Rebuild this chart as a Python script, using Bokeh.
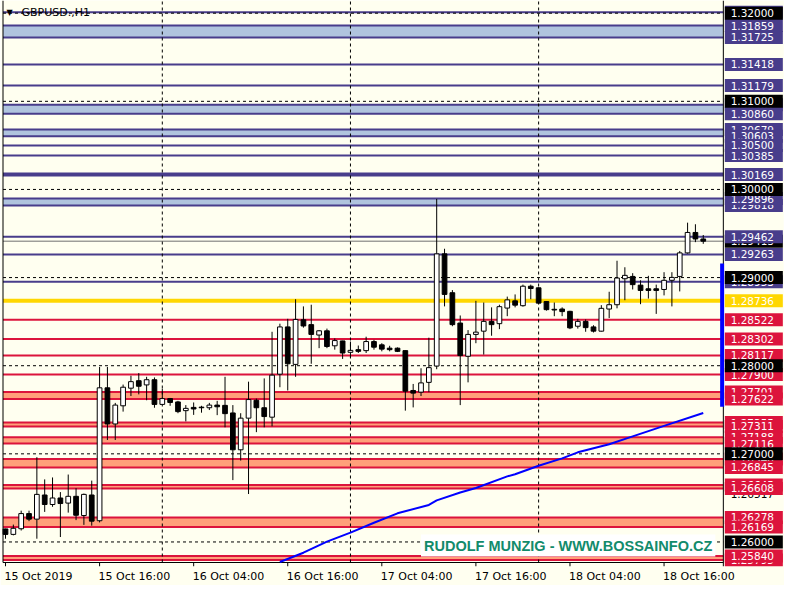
from bokeh.plotting import figure
from bokeh.models import Range1d, FixedTicker, Label
from bokeh.embed import file_html
from bokeh.resources import INLINE
from bokeh.core.properties import value

# ---------------- data (GBPUSD., H1) ----------------
opens = [1.26148, 1.26086, 1.26150, 1.26322, 1.26259, 1.26533, 1.26425, 1.26499, 1.26441, 1.26518,
         1.26300, 1.26533, 1.26241, 1.27749, 1.27339, 1.27545, 1.27745, 1.27830, 1.27782, 1.27841,
         1.27561, 1.27627, 1.27589, 1.27490, 1.27527, 1.27530, 1.27523, 1.27553, 1.27550, 1.27464,
         1.27046, 1.27405, 1.27608, 1.27523, 1.27416, 1.27904, 1.28440, 1.28015, 1.28521, 1.28466,
         1.28348, 1.28396, 1.28226, 1.28281, 1.28152, 1.28182, 1.28171, 1.28274, 1.28237, 1.28199,
         1.28199, 1.28171, 1.27719, 1.27700, 1.27811, 1.27996, 1.29269, 1.28828, 1.28484, 1.28107,
         1.28355, 1.28392, 1.28503, 1.28477, 1.28654, 1.28736, 1.28681, 1.28902, 1.28884, 1.28728,
         1.28640, 1.28643, 1.28617, 1.28448, 1.28503, 1.28440, 1.28392, 1.28643, 1.28692, 1.28987,
         1.29013, 1.28914, 1.28873, 1.28873, 1.28865, 1.28969, 1.29013, 1.29280, 1.29512, 1.29438]
highs = [1.26150, 1.26197, 1.26355, 1.26355, 1.26962, 1.26710, 1.26732, 1.26566, 1.26765, 1.26610,
         1.26549, 1.26696, 1.27985, 1.27985, 1.27578, 1.27786, 1.27886, 1.27916, 1.27874, 1.27867,
         1.27738, 1.27634, 1.27601, 1.27553, 1.27583, 1.27545, 1.27578, 1.27601, 1.27874, 1.27553,
         1.27461, 1.27819, 1.27627, 1.27856, 1.28385, 1.28477, 1.28532, 1.28754, 1.28673, 1.28692,
         1.28404, 1.28421, 1.28310, 1.28283, 1.28274, 1.28229, 1.28329, 1.28293, 1.28255, 1.28226,
         1.28207, 1.28173, 1.27793, 1.27971, 1.28318, 1.29893, 1.29327, 1.28858, 1.28570, 1.28404,
         1.28736, 1.28717, 1.28662, 1.28692, 1.28784, 1.28809, 1.28920, 1.28920, 1.28889, 1.28732,
         1.28717, 1.28662, 1.28623, 1.28532, 1.28525, 1.28459, 1.28687, 1.28839, 1.29191, 1.29117,
         1.29050, 1.28969, 1.29020, 1.28920, 1.29061, 1.29061, 1.29302, 1.29623, 1.29605, 1.29483]
lows = [1.26037, 1.26075, 1.26130, 1.26236, 1.26037, 1.26341, 1.26399, 1.26056, 1.26333, 1.26248,
        1.26194, 1.26185, 1.26222, 1.27157, 1.27157, 1.27479, 1.27656, 1.27675, 1.27608, 1.27523,
        1.27555, 1.27545, 1.27461, 1.27368, 1.27442, 1.27467, 1.27497, 1.27439, 1.27301, 1.26702,
        1.26924, 1.26544, 1.27246, 1.27301, 1.27312, 1.27756, 1.27719, 1.27874, 1.28432, 1.28022,
        1.28199, 1.28199, 1.28182, 1.28077, 1.28089, 1.28144, 1.28144, 1.28182, 1.28163, 1.28163,
        1.28155, 1.27490, 1.27527, 1.27656, 1.27700, 1.27960, 1.28673, 1.28448, 1.27553, 1.27811,
        1.28255, 1.28126, 1.28340, 1.28415, 1.28562, 1.28662, 1.28670, 1.28754, 1.28698, 1.28625,
        1.28562, 1.28562, 1.28415, 1.28421, 1.28385, 1.28377, 1.28388, 1.28540, 1.28651, 1.28743,
        1.28865, 1.28698, 1.28762, 1.28588, 1.28798, 1.28673, 1.28843, 1.29272, 1.29402, 1.29383]
closes = [1.26086, 1.26155, 1.26322, 1.26259, 1.26540, 1.26425, 1.26499, 1.26436, 1.26518, 1.26303,
          1.26540, 1.26236, 1.27749, 1.27339, 1.27553, 1.27756, 1.27819, 1.27767, 1.27841, 1.27561,
          1.27627, 1.27583, 1.27479, 1.27516, 1.27509, 1.27523, 1.27553, 1.27534, 1.27456, 1.27046,
          1.27405, 1.27616, 1.27523, 1.27423, 1.27893, 1.28440, 1.28022, 1.28525, 1.28451, 1.28355,
          1.28396, 1.28218, 1.28285, 1.28144, 1.28174, 1.28163, 1.28274, 1.28210, 1.28188, 1.28182,
          1.28163, 1.27711, 1.27689, 1.27805, 1.27978, 1.29269, 1.28809, 1.28466, 1.28115, 1.28355,
          1.28381, 1.28503, 1.28466, 1.28670, 1.28747, 1.28687, 1.28902, 1.28876, 1.28710, 1.28636,
          1.28632, 1.28614, 1.28429, 1.28503, 1.28432, 1.28392, 1.28651, 1.28692, 1.28995, 1.29025,
          1.28920, 1.28854, 1.28854, 1.28854, 1.28969, 1.29002, 1.29280, 1.29512, 1.29438, 1.29413]
bars = list(range(len(opens)))

tick_bars = [0, 12, 24, 36, 48, 60, 72, 84]
tick_labels = ["15 Oct 2019", "15 Oct 16:00", "16 Oct 04:00", "16 Oct 16:00",
               "17 Oct 04:00", "17 Oct 16:00", "18 Oct 04:00", "18 Oct 16:00"]
day_start_bars = [20, 44, 68]

ma_bars = [35, 38, 41, 44, 47, 50, 54, 55, 58, 60, 64, 65, 68, 71, 73, 77, 80, 84, 89]
ma_values = [1.25773, 1.25878, 1.26004, 1.26106, 1.26218, 1.26325, 1.26420, 1.26472, 1.26561,
             1.26612, 1.26744, 1.26768, 1.26865, 1.26948, 1.27017, 1.27108, 1.27198, 1.27317, 1.27464]

round_levels = [1.32, 1.31, 1.30, 1.29, 1.28, 1.27, 1.26]
navy_single = [1.32011, 1.31418, 1.31179, 1.30500, 1.30385, 1.29462, 1.29263, 1.28953]
navy_thick = [1.30169]
navy_band_top = [1.31859, 1.30961, 1.30679, 1.29896]
navy_band_bottom = [1.31725, 1.30860, 1.30603, 1.29818]
red_single = [1.28522, 1.28302, 1.28117, 1.27900]
red_band_top = [1.27701, 1.27355, 1.27188, 1.26940, 1.26645, 1.26278, 1.25840]
red_band_bottom = [1.27622, 1.27311, 1.27116, 1.26845, 1.26608, 1.26169, 1.25795]
gold_level = 1.28736
bid_price = 1.29413
range_top, range_bottom = 1.29161, 1.27534
scale_price = 1.26517
watermark = "RUDOLF MUNZIG - WWW.BOSSAINFO.CZ"
title = "GBPUSD.,H1"

# ---------------- colours ----------------
BG = "#FFFFF0"
NAVY = "#483D8B"
NAVY_BAND = "#B0C4DE"
RED = "#DC143C"
RED_BAND = "#FFA07A"
GOLD = "#FFD700"

# ---------------- layout ----------------
bar_px = 7.84
ppy = 8813.0
frame_w, frame_h = 782, 566
x_lo = -4 / bar_px
x_hi = x_lo + frame_w / bar_px
x_left = x_lo + 1.5 / bar_px
x_border = 91.56
y_border = 1.25767
y_lo = y_border - 4 / ppy
y_hi = y_lo + frame_h / ppy

p = figure(frame_width=frame_w, frame_height=frame_h,
           x_range=Range1d(x_lo, x_hi), y_range=Range1d(y_lo, y_hi),
           output_backend="svg", toolbar_location=None,
           y_axis_location=None, x_axis_location="below",
           min_border_left=1, min_border_right=1, min_border_top=0, min_border_bottom=0,
           background_fill_color=BG, border_fill_color=BG, outline_line_color=None)
p.grid.visible = False

# x axis: labels left-aligned at their tick (centre shifted by half label width)
def label_width(s):
    w = {"0": 7.0, "1": 7.0, "2": 7.0, "3": 7.0, "4": 7.0, "5": 7.0, "6": 7.0, "7": 7.0, "8": 7.0,
         "9": 7.0, " ": 3.5, "O": 8.66, "c": 6.05, "t": 4.31, ":": 3.7}
    return sum(w.get(ch, 7.0) for ch in s)

centres = [round(b + (label_width(s) / 2 - 1) / bar_px, 3) for b, s in zip(tick_bars, tick_labels)]
ax = p.xaxis[0]
ax.ticker = FixedTicker(ticks=centres)
ax.major_label_overrides = {c: s for c, s in zip(centres, tick_labels)}
ax.axis_line_color = None
ax.major_tick_line_color = None
ax.minor_tick_line_color = None
ax.major_tick_out = 0
ax.major_tick_in = 0
ax.major_label_standoff = 3
ax.major_label_text_font = "DejaVu Sans"
ax.major_label_text_font_size = "11px"
ax.major_label_text_color = "black"

# bands
p.quad(left=x_left, right=x_border, top=navy_band_top, bottom=navy_band_bottom,
       fill_color=NAVY_BAND, line_color=None)
p.quad(left=x_left, right=x_border, top=red_band_top, bottom=red_band_bottom,
       fill_color=RED_BAND, line_color=None)

# level lines
navy_lines = navy_single + navy_band_top + navy_band_bottom
red_lines = red_single + red_band_top + red_band_bottom
p.segment(x0=x_left, x1=x_border, y0=navy_lines, y1=navy_lines, line_color=NAVY, line_width=2)
p.segment(x0=x_left, x1=x_border, y0=navy_thick, y1=navy_thick, line_color=NAVY, line_width=4)
p.segment(x0=x_left, x1=x_border, y0=red_lines, y1=red_lines, line_color=RED, line_width=2)
p.segment(x0=x_left, x1=x_border, y0=[gold_level], y1=[gold_level], line_color=GOLD, line_width=4)
p.segment(x0=x_left, x1=x_border, y0=[bid_price], y1=[bid_price], line_color="#707070", line_width=1)

# grid
p.segment(x0=x_left, x1=x_border, y0=round_levels, y1=round_levels,
          line_color="black", line_width=1, line_dash="3 3")
p.segment(x0=day_start_bars, x1=day_start_bars, y0=y_border, y1=y_hi,
          line_color="black", line_width=1, line_dash="3 3")

# chart frame and ticks
p.segment(x0=[x_left, x_left, x_border], x1=[x_left, x_border, x_border],
          y0=[y_border, y_border, y_lo], y1=[y_hi, y_border, y_hi], line_color="black", line_width=1)
p.segment(x0=tick_bars, x1=tick_bars, y0=y_border, y1=y_lo, line_color="black", line_width=1)

# moving average
p.line(ma_bars, ma_values, line_color="#0000FF", line_width=2)

# candles
tops = [max(o, c) for o, c in zip(opens, closes)]
bottoms = [min(o, c) for o, c in zip(opens, closes)]
fills = ["white" if c > o else "black" for o, c in zip(opens, closes)]
p.segment(x0=bars, x1=bars, y0=lows, y1=highs, line_color="black", line_width=1)
p.vbar(x=bars, width=0.6, top=tops, bottom=bottoms, fill_color=fills, line_color="black", line_width=1)

# range bar at the right edge
p.segment(x0=[x_border - 1.2 / bar_px], x1=[x_border - 1.2 / bar_px], y0=[range_bottom], y1=[range_top],
          line_color="#0000FF", line_width=4)

# price labels on the right
box_cx = x_border + 30.5 / bar_px

def price_label(price, box_color, text_color="white", dy=0):
    if box_color is not None:
        p.rect(x=[box_cx], y=[price], width=58, height=13, width_units="screen", height_units="screen",
               fill_color=box_color, line_color=None)
    p.text(x=[x_border], y=[price], text=[f"{price:.5f}"], x_offset=7.3, y_offset=dy,
           text_baseline="middle", text_align="left", text_font=value("DejaVu Sans"),
           text_font_size="10.5px", text_color=text_color)

navy_order = [1.32011, 1.31859, 1.31725, 1.31418, 1.31179, 1.30961, 1.30860, 1.30679, 1.30603,
              1.30500, 1.30385, 1.30169, 1.29818, 1.29896]
for v in navy_order:
    price_label(v, NAVY)
price_label(bid_price, "black")
for v in [1.29462, 1.29263, 1.28953]:
    price_label(v, NAVY)
price_label(gold_level, GOLD)
price_label(scale_price, None, "black", dy=-2)
red_order = [1.28522, 1.28302, 1.28117, 1.27900, 1.27701, 1.27622, 1.27355, 1.27311, 1.27188,
             1.27116, 1.26940, 1.26845, 1.26645, 1.26608, 1.26278, 1.26169, 1.25795, 1.25840]
for v in red_order:
    price_label(v, RED)
for v in round_levels:
    price_label(v, "black")

# title and watermark
p.add_layout(Label(x=x_lo, y=y_hi, x_offset=5, y_offset=-12, text="\u25bc", text_font="DejaVu Sans",
                   text_font_size="8px", text_baseline="middle", text_color="black"))
p.add_layout(Label(x=x_lo, y=y_hi, x_offset=20, y_offset=-12, text=title, text_font="DejaVu Sans",
                   text_font_size="11px", text_baseline="middle", text_color="black"))
p.add_layout(Label(x=x_border, y=y_border, x_offset=-8, y_offset=6, text=watermark,
                   text_font="Liberation Sans", text_font_style="bold", text_font_size="14.5px",
                   text_align="right", text_baseline="bottom", text_color="#128B6B",
                   background_fill_color="white", padding=3))

open("out.html", "w").write(file_html(p, INLINE))
